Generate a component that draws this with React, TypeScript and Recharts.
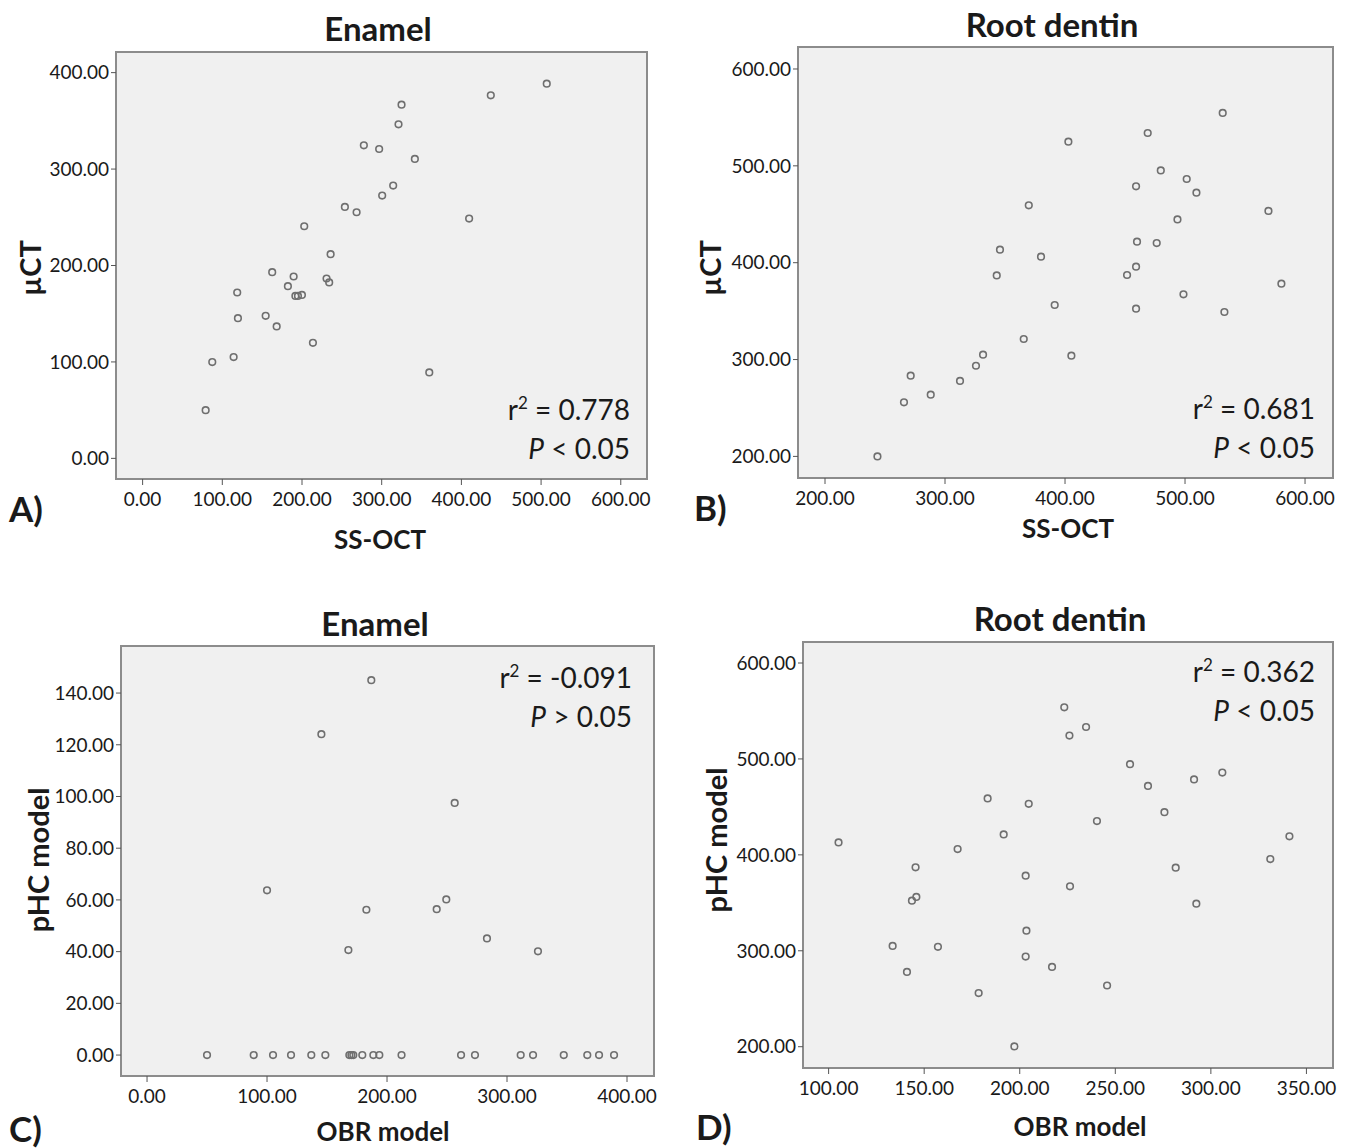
import React from "react";
import {
  ScatterChart,
  Scatter,
  XAxis,
  YAxis,
  ReferenceArea,
} from "recharts";

// A) Enamel: SS-OCT vs µCT
const enamelOctX = [324.9, 321.1, 277.6, 296.8, 341.6, 314.4, 300.6, 253.8, 268.5, 202.8, 235.9, 162.6, 189.5, 230.8, 234.1, 182.3, 118.7, 191.7, 194.9, 199.9, 119.6, 154.4, 168.2, 213.7, 87.4, 114.2, 359.7, 79.1, 436.9, 507.1, 409.7];
const enamelCtY = [366.8, 346.4, 324.6, 320.8, 310.5, 282.9, 272.5, 260.7, 255.2, 240.7, 211.7, 193.1, 188.6, 186.5, 182.4, 178.6, 172.0, 168.5, 168.5, 169.5, 145.4, 147.8, 136.8, 119.8, 99.8, 105.0, 89.1, 50.0, 376.5, 388.6, 248.7];

// B) Root dentin: SS-OCT vs µCT
const dentinOctX = [402.8, 369.8, 345.8, 380.0, 343.1, 391.4, 365.6, 405.3, 331.7, 325.8, 271.4, 312.5, 288.1, 265.8, 243.7, 531.4, 468.9, 479.8, 501.4, 459.2, 509.5, 569.5, 493.7, 460.0, 476.4, 459.2, 451.7, 580.3, 498.7, 459.2, 532.8];
const dentinCtY = [525.0, 459.2, 413.4, 406.2, 386.9, 356.3, 321.2, 304.0, 305.0, 293.6, 283.3, 277.9, 263.7, 255.8, 200.0, 554.6, 533.9, 495.3, 486.4, 478.8, 472.3, 453.4, 444.7, 421.7, 420.3, 395.9, 387.3, 378.3, 367.3, 352.5, 349.1];

// C) Enamel: OBR model vs pHC model
const enamelObrX = [186.9, 145.3, 100.0, 182.8, 167.8, 256.4, 249.4, 241.4, 283.3, 325.8, 50.0, 88.9, 105.0, 120.0, 136.9, 148.6, 168.6, 170.3, 171.9, 179.4, 188.6, 193.6, 212.1, 261.7, 273.3, 311.4, 321.7, 347.3, 366.9, 376.7, 389.2];
const enamelPhcY = [145.0, 124.1, 63.7, 56.2, 40.6, 97.5, 60.2, 56.4, 45.1, 40.1, 0, 0, 0, 0, 0, 0, 0, 0, 0, 0, 0, 0, 0, 0, 0, 0, 0, 0, 0, 0, 0];

// D) Root dentin: OBR model vs pHC model
const dentinObrX = [223.3, 234.7, 226.0, 183.2, 204.7, 191.6, 105.2, 167.5, 145.5, 203.1, 226.3, 145.9, 143.6, 203.5, 133.5, 157.2, 203.1, 141.0, 216.9, 178.5, 197.2, 257.7, 267.1, 291.2, 306.0, 275.7, 240.4, 341.1, 331.1, 281.6, 292.4, 245.7];
const dentinPhcY = [553.8, 533.3, 524.3, 458.8, 453.2, 421.3, 413.0, 406.0, 387.0, 378.3, 367.2, 356.1, 352.2, 321.0, 305.1, 304.1, 294.0, 278.0, 283.2, 255.9, 200.3, 494.5, 471.9, 478.6, 485.8, 444.5, 435.2, 419.3, 395.6, 386.6, 349.1, 263.8];

const ticksA_X = [0, 100, 200, 300, 400, 500, 600];
const ticksA_Y = [0, 100, 200, 300, 400];
const ticksB = [200, 300, 400, 500, 600];
const ticksC_X = [0, 100, 200, 300, 400];
const ticksC_Y = [0, 20, 40, 60, 80, 100, 120, 140];
const ticksD_X = [100, 150, 200, 250, 300, 350];
const ticksD_Y = [200, 300, 400, 500, 600];

const zip = (xs: number[], ys: number[]) => xs.map((x, i) => ({ x, y: ys[i] }));

const FONT = "Lato, 'Open Sans', sans-serif";
const TEXT = "#1a1a1a";

const Dot = (props: any) => (
  <circle cx={props.cx} cy={props.cy} r={3.3} fill="none" stroke="#6f6f6f" strokeWidth={1.6} />
);

type PanelProps = {
  data: { x: number; y: number }[];
  xDomain: [number, number];
  yDomain: [number, number];
  xTicks: number[];
  yTicks: number[];
  left: number;
  top: number;
  margin: { top: number; right: number; bottom: number; left: number };
};

const Panel = ({ data, xDomain, yDomain, xTicks, yTicks, left, top, margin }: PanelProps) => (
  <div style={{ position: "absolute", left, top, width: 675, height: 574 }}>
    <ScatterChart width={675} height={574} margin={margin}>
      <XAxis
        type="number"
        dataKey="x"
        domain={xDomain}
        ticks={xTicks}
        interval={0}
        allowDataOverflow
        height={30}
        axisLine={false}
        tickSize={6}
        tickMargin={8}
        tickLine={{ stroke: "#555" }}
        tick={{ fill: TEXT, fontSize: 19, fontFamily: FONT }}
        tickFormatter={(v: number) => v.toFixed(2)}
      />
      <YAxis
        type="number"
        dataKey="y"
        domain={yDomain}
        ticks={yTicks}
        interval={0}
        allowDataOverflow
        width={90}
        axisLine={false}
        tickSize={5}
        tickMargin={2}
        tickLine={{ stroke: "#555" }}
        tick={{ fill: TEXT, fontSize: 19, fontFamily: FONT }}
        tickFormatter={(v: number) => v.toFixed(2)}
      />
      <ReferenceArea
        x1={xDomain[0]}
        x2={xDomain[1]}
        y1={yDomain[0]}
        y2={yDomain[1]}
        fill="#f0f0f0"
        fillOpacity={1}
        stroke="#8c8c8c"
        strokeWidth={2}
        ifOverflow="visible"
      />
      <Scatter data={data} shape={<Dot />} isAnimationActive={false} />
    </ScatterChart>
  </div>
);

const Stat = ({ x, y, r2, rel }: { x: number; y: number; r2: string; rel: string }) => (
  <g fontFamily={FONT} fontSize={28} fill={TEXT} textAnchor="end">
    <text x={x} y={y}>
      r<tspan dy={-11} fontSize={17}>2</tspan>
      <tspan dy={11}>{` = ${r2}`}</tspan>
    </text>
    <text x={x} y={y + 39}>
      <tspan fontStyle="italic">P</tspan>
      {` ${rel} 0.05`}
    </text>
  </g>
);

const Overlay = () => (
  <svg
    width={1350}
    height={1148}
    style={{ position: "absolute", left: 0, top: 0, pointerEvents: "none" }}
  >
    <g fontFamily={FONT} fontWeight="bold" fontSize={33} fill={TEXT} textAnchor="middle">
      <text x={378} y={41}>Enamel</text>
      <text x={1052} y={37}>Root dentin</text>
      <text x={375} y={636}>Enamel</text>
      <text x={1060} y={631}>Root dentin</text>
    </g>
    <g fontFamily={FONT} fontWeight="bold" fontSize={26} fill={TEXT} textAnchor="middle">
      <text x={380} y={549}>SS-OCT</text>
      <text x={1068} y={538}>SS-OCT</text>
      <text x={383} y={1141}>OBR model</text>
      <text x={1080} y={1136}>OBR model</text>
    </g>
    <g fontFamily={FONT} fontWeight="bold" fontSize={29} fill={TEXT} textAnchor="middle">
      <text x={41} y={268} transform="rotate(-90 41 268)">µCT</text>
      <text x={721} y={268} transform="rotate(-90 721 268)">µCT</text>
      <text x={49} y={860} transform="rotate(-90 49 860)">pHC model</text>
      <text x={727} y={840} transform="rotate(-90 727 840)">pHC model</text>
    </g>
    <g fontFamily={FONT} fontWeight="bold" fontSize={35} fill={TEXT}>
      <text x={9} y={522}>A)</text>
      <text x={694} y={521}>B)</text>
      <text x={9} y={1142}>C)</text>
      <text x={696} y={1140}>D)</text>
    </g>
    <Stat x={630} y={420} r2="0.778" rel="<" />
    <Stat x={1315} y={419} r2="0.681" rel="<" />
    <Stat x={632} y={688} r2="-0.091" rel=">" />
    <Stat x={1315} y={682} r2="0.362" rel="<" />
  </svg>
);

export default function App() {
  return (
    <div style={{ position: "absolute", left: 0, top: 0, width: 1350, height: 1148, background: "#fff" }}>
      <Panel
        data={zip(enamelOctX, enamelCtY)}
        xDomain={[-33.4, 632.9]}
        yDomain={[-21.4, 421.4]}
        xTicks={ticksA_X}
        yTicks={ticksA_Y}
        left={0}
        top={0}
        margin={{ top: 52, right: 28, bottom: 65, left: 26 }}
      />
      <Panel
        data={zip(dentinOctX, dentinCtY)}
        xDomain={[177.5, 623.3]}
        yDomain={[177.7, 622.7]}
        xTicks={ticksB}
        yTicks={ticksB}
        left={675}
        top={0}
        margin={{ top: 47, right: 17, bottom: 66, left: 33 }}
      />
      <Panel
        data={zip(enamelObrX, enamelPhcY)}
        xDomain={[-21.7, 422.5]}
        yDomain={[-8.1, 158.2]}
        xTicks={ticksC_X}
        yTicks={ticksC_Y}
        left={0}
        top={574}
        margin={{ top: 72, right: 21, bottom: 42, left: 31 }}
      />
      <Panel
        data={zip(dentinObrX, dentinPhcY)}
        xDomain={[86.6, 363.9]}
        yDomain={[177.8, 621.9]}
        xTicks={ticksD_X}
        yTicks={ticksD_Y}
        left={675}
        top={574}
        margin={{ top: 68, right: 17, bottom: 50, left: 38 }}
      />
      <Overlay />
    </div>
  );
}
